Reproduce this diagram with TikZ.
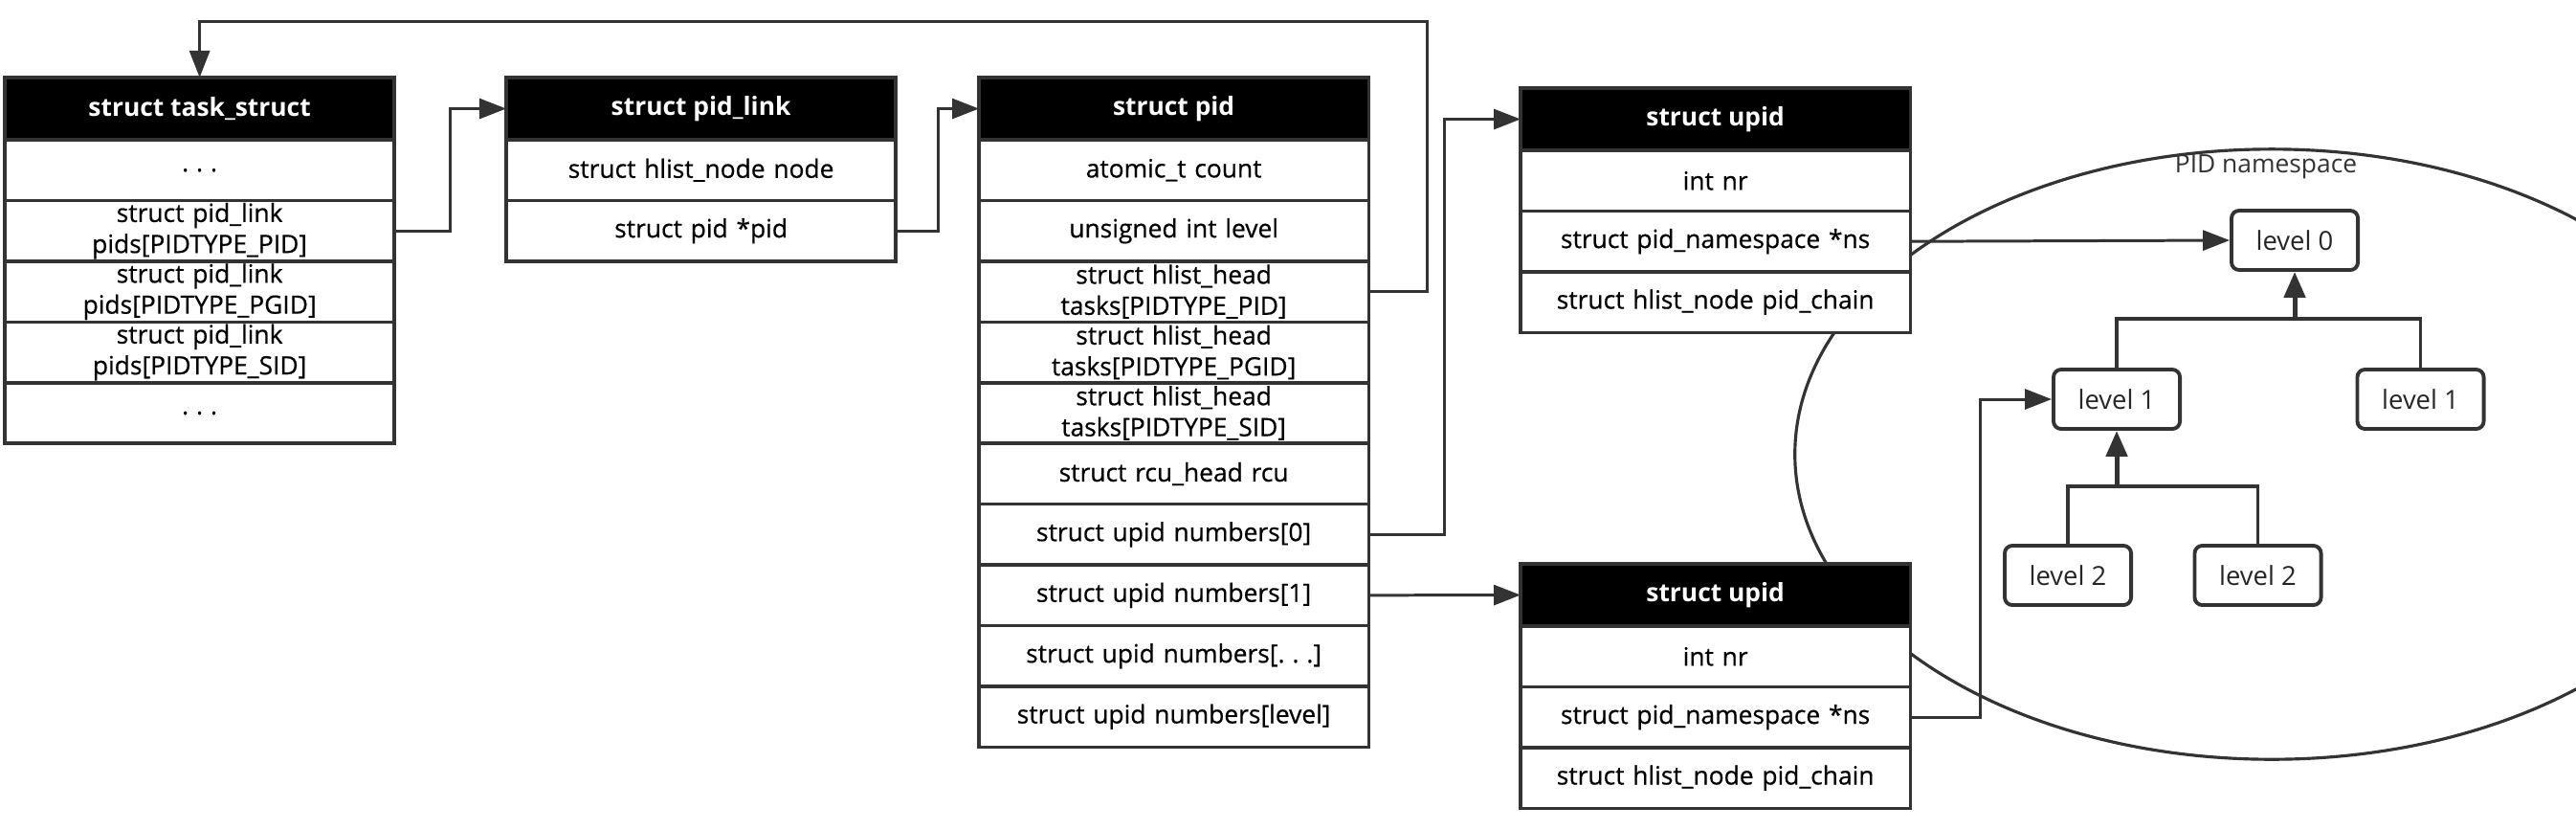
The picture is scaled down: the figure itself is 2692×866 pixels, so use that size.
\documentclass[tikz,border=0pt]{standalone}
\usepackage{fontspec}
\setmainfont{Open Sans}
\newfontfamily\rowfont{Open Sans}[FakeBold=0.5]
\usetikzlibrary{positioning,arrows.meta}
\definecolor{edge}{HTML}{333333}
\newcommand{\fsz}{\fontsize{7.5}{9.2}\selectfont}
\newcommand{\sdots}{.\kern0.3em.\kern0.3em.}

\begin{document}
\begin{tikzpicture}[x=0.01cm, y=0.01cm,
    hdr/.style={draw=edge, fill=black, text=white, font=\bfseries\fsz, minimum width=4.07cm,
                minimum height=0.65cm, inner sep=0pt, outer sep=0pt, line width=1pt},
    fld/.style={draw=edge, fill=white, text=black, font=\rowfont\fsz, text width=4.07cm, align=center,
                minimum height=0.634cm, inner sep=0pt, outer sep=0pt, line width=1pt},
    lvl/.style={draw=edge, fill=white, text=black!85, font=\fontsize{7.8}{9}\selectfont, rounded corners=0.08cm,
                minimum width=1.32cm, minimum height=0.62cm, inner sep=0pt, line width=1.1pt},
    wire/.style={draw=edge, line width=0.85pt, -{Triangle[length=2.8mm, width=2.1mm]}},
    tbar/.style={draw=edge, line width=1.1pt},
    tarr/.style={draw=edge, line width=1.4pt, -{Triangle[length=2.7mm, width=2.2mm]}}]
  \useasboundingbox (0,0) rectangle (2692,-866);

  % namespace
  \draw[edge, line width=0.9pt] (2374,-474.5) ellipse [x radius=4.98cm, y radius=3.185cm];
  \node[text=black!80, font=\fsz] (nsname) at (2368,-174) {PID namespace};

  % task_struct
  \node[hdr, anchor=north west] (task) at (5,-81) {struct task\_struct};
  \node[fld, below=0pt of task]  (task1) {\sdots};
  \node[fld, below=0pt of task1] (task2) {struct pid\_link\\pids[PIDTYPE\_PID]};
  \node[fld, below=0pt of task2] (task3) {struct pid\_link\\pids[PIDTYPE\_PGID]};
  \node[fld, below=0pt of task3] (task4) {struct pid\_link\\pids[PIDTYPE\_SID]};
  \node[fld, below=0pt of task4] (task5) {\sdots};

  % pid_link
  \node[hdr, anchor=north west] (plink) at (529,-81) {struct pid\_link};
  \node[fld, below=0pt of plink]  (plink1) {struct hlist\_node node};
  \node[fld, below=0pt of plink1] (plink2) {struct pid *pid};

  % pid
  \node[hdr, anchor=north west] (pid) at (1023,-81) {struct pid};
  \node[fld, below=0pt of pid]  (pid1)  {atomic\_t count};
  \node[fld, below=0pt of pid1] (pid2)  {unsigned int level};
  \node[fld, below=0pt of pid2] (pid3)  {struct hlist\_head\\tasks[PIDTYPE\_PID]};
  \node[fld, below=0pt of pid3] (pid4)  {struct hlist\_head\\tasks[PIDTYPE\_PGID]};
  \node[fld, below=0pt of pid4] (pid5)  {struct hlist\_head\\tasks[PIDTYPE\_SID]};
  \node[fld, below=0pt of pid5] (pid6)  {struct rcu\_head rcu};
  \node[fld, below=0pt of pid6] (pid7)  {struct upid numbers[0]};
  \node[fld, below=0pt of pid7] (pid8)  {struct upid numbers[1]};
  \node[fld, below=0pt of pid8] (pid9)  {struct upid numbers[\sdots]};
  \node[fld, below=0pt of pid9] (pid10) {struct upid numbers[level]};

  % upid (two copies)
  \node[hdr, anchor=north west] (upidA) at (1589,-92) {struct upid};
  \node[fld, below=0pt of upidA]  (upidA1) {int nr};
  \node[fld, below=0pt of upidA1] (upidA2) {struct pid\_namespace *ns};
  \node[fld, below=0pt of upidA2] (upidA3) {struct hlist\_node pid\_chain};

  \node[hdr, anchor=north west] (upidB) at (1589,-589) {struct upid};
  \node[fld, below=0pt of upidB]  (upidB1) {int nr};
  \node[fld, below=0pt of upidB1] (upidB2) {struct pid\_namespace *ns};
  \node[fld, below=0pt of upidB2] (upidB3) {struct hlist\_node pid\_chain};

  % levels
  \node[lvl] (lvzero) at (2398,-251)   {level 0};
  \node[lvl] (lvoneL) at (2212,-417)   {level 1};
  \node[lvl] (lvoneR) at (2529.5,-417) {level 1};
  \node[lvl] (lvtwoL) at (2161,-601)   {level 2};
  \node[lvl] (lvtwoR) at (2359.5,-601) {level 2};
  \coordinate (jzero) at (2398,-333);
  \coordinate (jone)  at (2212,-508);
  \draw[tbar] (lvoneL.north) |- (jzero) -| (lvoneR.north);
  \draw[tarr] (jzero) -- (lvzero.south);
  \draw[tbar] (lvtwoL.north) |- (jone) -| (lvtwoR.north);
  \draw[tarr] (jone) -- (lvoneL.south);

  % pointers
  \coordinate (loop) at (1491,-22);
  \draw[wire] (task2.east) -- ++(58,0) |- (plink.west);
  \draw[wire] (plink2.east) -- ++(44,0) |- (pid.west);
  \draw[wire] (pid3.east) -| (loop) -| (task.north);
  \draw[wire] (pid7.east) -- ++(79,0) |- (upidA.west);
  \draw[wire] (pid8.east) -- (upidB.west);
  \draw[wire] (upidA2.east) -- (lvzero.west);
  \draw[wire] (upidB2.east) -- ++(73,0) |- (lvoneL.west);
\end{tikzpicture}
\end{document}
